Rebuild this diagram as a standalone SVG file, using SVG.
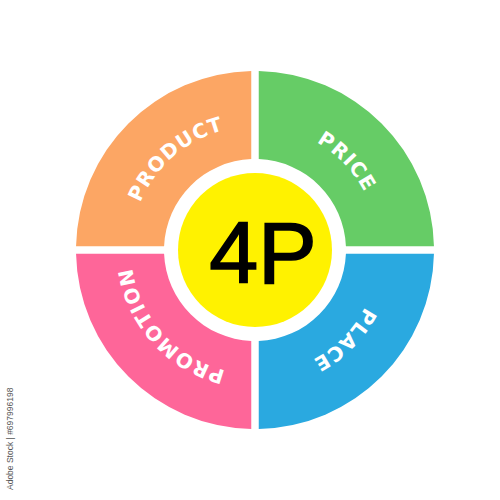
<svg xmlns="http://www.w3.org/2000/svg" xmlns:xlink="http://www.w3.org/1999/xlink" width="500" height="500" viewBox="0 0 500 500">
<style>
.lbl{font-family:"DejaVu Sans","Liberation Sans",sans-serif;font-weight:bold;font-size:20px;fill:#fff;letter-spacing:1px}
.ctr{font-family:"Liberation Sans",Arial,sans-serif;font-size:88px;fill:#000;stroke:#000;stroke-width:1.6px}
.wm{font-family:"Liberation Sans",Arial,sans-serif;font-size:8.5px;fill:#555}
</style>
<defs>
<path id="ring" d="M 379,250 A 124 124 0 1 1 131,250 A 124 124 0 1 1 379,250"/>
</defs>
<rect width="500" height="500" fill="#fff"/>
<g id="product">
<path d="M 76.04,246.25 A 179 179 0 0 1 251.25,71.04 L 251.25,159.08 A 91 91 0 0 0 164.08,246.25 Z" fill="#FCA664"/>
<text class="lbl" text-anchor="middle"><textPath xlink:href="#ring" href="#ring" startOffset="63.6%">PRODUCT</textPath></text>
</g>
<g id="price">
<path d="M 258.75,71.04 A 179 179 0 0 1 433.96,246.25 L 345.92,246.25 A 91 91 0 0 0 258.75,159.08 Z" fill="#66CC66"/>
<text class="lbl" text-anchor="middle"><textPath xlink:href="#ring" href="#ring" startOffset="87.8%">PRICE</textPath></text>
</g>
<g id="place">
<path d="M 433.96,253.75 A 179 179 0 0 1 258.75,428.96 L 258.75,340.92 A 91 91 0 0 0 345.92,253.75 Z" fill="#2AA9E0"/>
<text class="lbl" text-anchor="middle"><textPath xlink:href="#ring" href="#ring" startOffset="12.5%">PLACE</textPath></text>
</g>
<g id="promotion">
<path d="M 251.25,428.96 A 179 179 0 0 1 76.04,253.75 L 164.08,253.75 A 91 91 0 0 0 251.25,340.92 Z" fill="#FE6699"/>
<text class="lbl" text-anchor="middle"><textPath xlink:href="#ring" href="#ring" startOffset="38.3%">PROMOTION</textPath></text>
</g>
<g id="center">
<circle cx="255" cy="250" r="77" fill="#FFF200"/>
<text class="ctr" x="263" y="283" text-anchor="middle">4P</text>
</g>
<g id="connectors"/>
<text class="wm" transform="translate(13,490) rotate(-90)">Adobe Stock | #697996198</text>
</svg>
